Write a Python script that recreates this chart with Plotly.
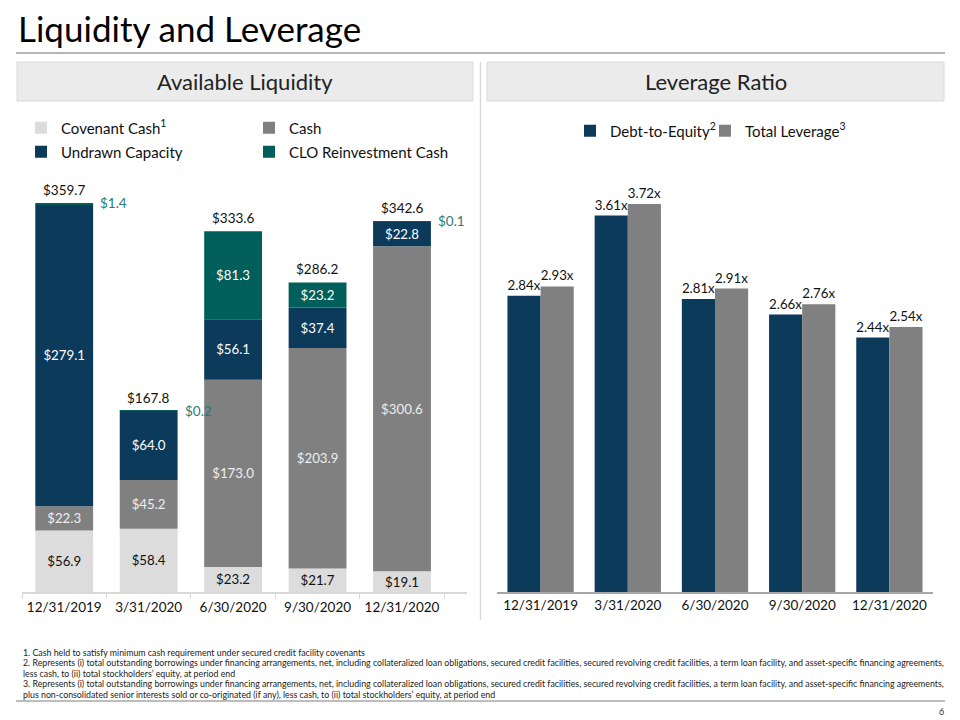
import plotly.graph_objects as go

# quarter ends shown on both charts
dates = ["12/31/2019", "3/31/2020", "6/30/2020", "9/30/2020", "12/31/2020"]

# available liquidity ($m)
covenant_cash = [56.9, 58.4, 23.2, 21.7, 19.1]
cash = [22.3, 45.2, 173.0, 203.9, 300.6]
undrawn_capacity = [279.1, 64.0, 56.1, 37.4, 22.8]
clo_cash = [1.4, 0.2, 81.3, 23.2, 0.1]
total_liquidity = [359.7, 167.8, 333.6, 286.2, 342.6]

# leverage ratios (x)
debt_to_equity = [2.84, 3.61, 2.81, 2.66, 2.44]
total_leverage = [2.93, 3.72, 2.91, 2.76, 2.54]

footnotes = [
    "1. Cash held to satisfy minimum cash requirement under secured credit facility covenants",
    "2. Represents (i) total outstanding borrowings under financing arrangements, net, including collateralized loan obligations, secured credit facilities, secured revolving credit facilities, a term loan facility, and asset-specific financing agreements,",
    "less cash, to (ii) total stockholders\u2019 equity, at period end",
    "3. Represents (i) total outstanding borrowings under financing arrangements, net, including collateralized loan obligations, secured credit facilities, secured revolving credit facilities, a term loan facility, and asset-specific financing agreements,",
    "plus non-consolidated senior interests sold or co-originated (if any), less cash, to (ii) total stockholders\u2019 equity, at period end",
]

NAVY = "#0C3A5B"
TEAL = "#005F5A"
GRAY = "#808080"
LIGHT = "#DCDCDC"
FONT = "Lato"

W, H = 960, 720


def fx(p):
    return p / W


def fy(p):
    return 1 - p / H


def money(vals):
    # tiny slices get their label beside the bar instead
    return [f"${v:.1f}" if v >= 5 else "" for v in vals]


# stack the liquidity pieces by hand (overlay mode, explicit base)
base_cash = covenant_cash
base_undrawn = [a + b for a, b in zip(covenant_cash, cash)]
base_clo = [a + b for a, b in zip(base_undrawn, undrawn_capacity)]

fig = go.Figure()

stack = [
    ("Covenant Cash<sup>1</sup>", covenant_cash, None, LIGHT, "#111111", "legend"),
    ("Cash", cash, base_cash, GRAY, "#EEEEEE", "legend"),
    ("Undrawn Capacity", undrawn_capacity, base_undrawn, NAVY, "white", "legend2"),
    ("CLO Reinvestment Cash", clo_cash, base_clo, TEAL, "white", "legend2"),
]
for name, vals, base, color, tcolor, leg in stack:
    fig.add_trace(go.Bar(
        x=dates, y=vals, base=base, name=name, legend=leg,
        marker=dict(color=color, line=dict(width=0)),
        text=money(vals), textposition="inside", insidetextanchor="middle",
        textangle=0, textfont=dict(family=FONT, size=13.5, color=tcolor),
        xaxis="x", yaxis="y", hoverinfo="skip",
    ))

for name, vals, color, off, leg in [
    ("Debt-to-Equity<sup>2</sup>", debt_to_equity, NAVY, -0.38, "legend3"),
    ("Total Leverage<sup>3</sup>", total_leverage, GRAY, 0.0, "legend4"),
]:
    fig.add_trace(go.Bar(
        x=dates, y=vals, name=name, legend=leg,
        width=0.38, offset=off,
        marker=dict(color=color, line=dict(width=0)),
        text=[f"{v:.2f}x" for v in vals], textposition="outside",
        textangle=0, textfont=dict(family=FONT, size=13.5, color="#111111"),
        cliponaxis=False, xaxis="x2", yaxis="y2", hoverinfo="skip",
    ))

annotations = []
for d, tot, clo in zip(dates, total_liquidity, clo_cash):
    annotations.append(dict(
        x=d, y=tot, xref="x", yref="y", text=f"${tot:.1f}", showarrow=False,
        xanchor="center", yanchor="bottom", yshift=3,
        font=dict(family=FONT, size=13.5, color="#111111"),
    ))
    if clo < 5:
        annotations.append(dict(
            x=d, y=tot, xref="x", yref="y", text=f"${clo:.1f}", showarrow=False,
            xanchor="left", yanchor="middle", xshift=34,
            font=dict(family=FONT, size=13.5, color="#2B7B78"),
        ))

annotations += [
    dict(x=fx(16), y=fy(28), xref="paper", yref="paper", xanchor="left", yanchor="middle",
         text="Liquidity and Leverage", showarrow=False,
         font=dict(family=FONT, size=35, color="black")),
    dict(x=fx(245), y=fy(81), xref="paper", yref="paper", xanchor="center", yanchor="middle",
         text="Available Liquidity", showarrow=False,
         font=dict(family=FONT, size=22, color="#222222")),
    dict(x=fx(715.5), y=fy(81), xref="paper", yref="paper", xanchor="center", yanchor="middle",
         text="Leverage Ratio", showarrow=False,
         font=dict(family=FONT, size=22, color="#222222")),
    dict(x=fx(946), y=fy(711), xref="paper", yref="paper", xanchor="right", yanchor="middle",
         text="6", showarrow=False, font=dict(family=FONT, size=9, color="#333333")),
]
for i, line in enumerate(footnotes):
    annotations.append(dict(
        x=fx(21), y=fy(652 + i * 10.5), xref="paper", yref="paper",
        xanchor="left", yanchor="middle", align="left", text=line, showarrow=False,
        font=dict(family=FONT, size=8.8, color="#222222"),
    ))

shapes = [
    dict(type="line", xref="paper", yref="paper", x0=fx(16), x1=fx(945), y0=fy(53), y1=fy(53),
         line=dict(color="#B5B5B5", width=2)),
    dict(type="line", xref="paper", yref="paper", x0=fx(16), x1=fx(945), y0=fy(701), y1=fy(701),
         line=dict(color="#BDBDBD", width=2)),
    dict(type="rect", xref="paper", yref="paper", x0=fx(17), x1=fx(473), y0=fy(101), y1=fy(62),
         fillcolor="#EBEBEB", line=dict(color="#DADADA", width=1), layer="below"),
    dict(type="rect", xref="paper", yref="paper", x0=fx(487), x1=fx(944), y0=fy(101), y1=fy(62),
         fillcolor="#EBEBEB", line=dict(color="#DADADA", width=1), layer="below"),
    dict(type="line", xref="paper", yref="paper", x0=fx(480.5), x1=fx(480.5), y0=fy(62), y1=fy(620),
         line=dict(color="#DADADA", width=1.5)),
]

leg_font = dict(family=FONT, size=15, color="#111111")


def legend_box(x, y, entrywidth=None):
    box = dict(orientation="h", x=fx(x), xanchor="left", y=fy(y), yanchor="middle",
               font=leg_font, bgcolor="rgba(0,0,0,0)")
    if entrywidth:
        box["entrywidth"] = entrywidth
    return box


fig.update_layout(
    width=W, height=H, margin=dict(l=0, r=0, t=0, b=0),
    paper_bgcolor="white", plot_bgcolor="white",
    barmode="overlay", bargap=0.315,
    uniformtext=dict(mode="show", minsize=13),
    annotations=annotations, shapes=shapes,
    legend=legend_box(21, 128, 183),
    legend2=legend_box(21, 152, 183),
    legend3=legend_box(570, 131),
    legend4=legend_box(705, 131),
    xaxis=dict(domain=[fx(22), fx(467)], anchor="y", showline=True, linecolor="#D9D9D9",
               linewidth=1.5, ticks="outside", tickson="boundaries", ticklen=5,
               tickcolor="#D9D9D9", showgrid=False, tickangle=0, ticklabelstandoff=2,
               tickfont=dict(family=FONT, size=13.5, color="#111111")),
    yaxis=dict(domain=[fy(592), fy(170)], range=[0, 390.2], visible=False),
    xaxis2=dict(domain=[fx(497), fx(933)], anchor="y2", showline=True, linecolor="#A6A6A6",
                linewidth=1.5, ticks="", showgrid=False, tickangle=0,
                tickfont=dict(family=FONT, size=13.5, color="#111111")),
    yaxis2=dict(domain=[fy(592), fy(170)], range=[0, 4.046], visible=False),
)

fig.write_html("out.html", config={"displayModeBar": False},
               post_script="document.body.style.margin='0';")
